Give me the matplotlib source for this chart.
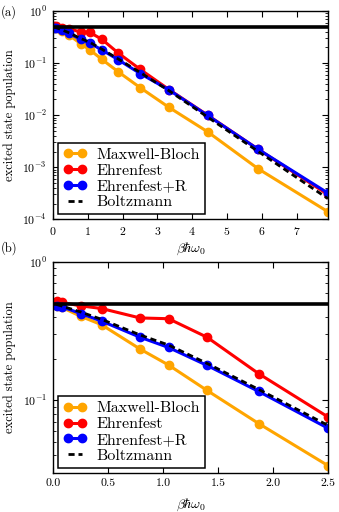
import matplotlib
matplotlib.use("Agg")
import matplotlib.pyplot as plt
from matplotlib.ticker import LogLocator, NullFormatter, FixedLocator

plt.rcParams.update({
    "font.family": "serif",
    "font.serif": ["cmr10", "DejaVu Serif"],
    "mathtext.fontset": "cm",
    "axes.formatter.use_mathtext": True,
    "font.size": 8.5,
    "xtick.direction": "in",
    "ytick.direction": "in",
    "xtick.top": True,
    "ytick.right": True,
    "xtick.major.size": 4,
    "ytick.major.size": 4,
    "xtick.minor.size": 2,
    "ytick.minor.size": 2,
    "xtick.major.pad": 4,
    "ytick.major.pad": 4.5,
    "axes.linewidth": 1.0,
})

x = [0.03, 0.08, 0.25, 0.44, 0.79, 1.05, 1.40, 1.87, 2.50, 3.33, 4.44, 5.90, 7.90]
maxwell_bloch = [0.48, 0.469, 0.405, 0.352, 0.235, 0.180, 0.118, 0.068, 0.0338, 0.0141, 0.0048, 9.3e-4, 1.4e-4]
ehrenfest = [0.524, 0.51, 0.482, 0.461, 0.394, 0.389, 0.286, 0.156, 0.076, 0.031, 0.0100, 2.2e-3, 3.0e-4]
ehrenfest_r = [0.48, 0.474, 0.424, 0.374, 0.286, 0.241, 0.179, 0.116, 0.0630, 0.0305, 0.0099, 2.2e-3, 3.2e-4]
boltzmann = [0.493, 0.48, 0.435, 0.385, 0.297, 0.251, 0.185, 0.120, 0.066, 0.0295, 0.0092, 2.0e-3, 2.5e-4]
half_line = 0.5

xticks_a = [0, 1, 2, 3, 4, 5, 6, 7]
xticks_b = [0.0, 0.5, 1.0, 1.5, 2.0, 2.5]

fig = plt.figure(figsize=(3.39, 5.12), dpi=100)
ax_a = fig.add_axes([0.157, 0.5717, 0.810, 0.4068])
ax_b = fig.add_axes([0.157, 0.0768, 0.810, 0.4115])

def draw(ax):
    ax.plot(x, maxwell_bloch, "-o", color="#FFA500", mec="#FFA500", lw=2.2, ms=6, label="Maxwell-Bloch")
    ax.plot(x, ehrenfest, "-o", color="#FF0000", mec="#FF0000", lw=2.2, ms=6, label="Ehrenfest")
    ax.plot(x, ehrenfest_r, "-o", color="#0000FF", mec="#0000FF", lw=2.2, ms=6, label="Ehrenfest+R")
    ax.plot(x, boltzmann, color="black", lw=2.0, ls=(0, (2.2, 1.4)), label="Boltzmann")
    ax.axhline(half_line, color="black", lw=2.6)
    ax.set_yscale("log")
    ax.set_ylabel("excited state population", fontsize=9)
    ax.set_xlabel(r"$\beta\hbar\omega_0$", fontsize=10)
    ax.yaxis.set_minor_locator(LogLocator(base=10, subs=range(2, 10)))
    ax.yaxis.set_minor_formatter(NullFormatter())
    leg = ax.legend(loc="lower left", numpoints=2, fancybox=False, edgecolor="black",
                    framealpha=1, fontsize=11.5, handlelength=1.5, handletextpad=0.6,
                    labelspacing=0.1, borderpad=0.3, borderaxespad=0.32)
    leg.get_frame().set_linewidth(1.1)

draw(ax_a)
ax_a.set_xlim(0, 7.9)
ax_a.set_ylim(1e-4, 1)
ax_a.xaxis.set_major_locator(FixedLocator(xticks_a))
ax_a.xaxis.set_label_coords(0.5, -0.104)
ax_a.yaxis.set_label_coords(-0.136, 0.5)

draw(ax_b)
ax_b.set_xlim(0, 2.5)
ax_b.set_ylim(0.03, 1)
ax_b.xaxis.set_major_locator(FixedLocator(xticks_b))
ax_b.set_xticklabels([f"{v:.1f}" for v in xticks_b])
ax_b.xaxis.set_label_coords(0.5, -0.112)
ax_b.yaxis.set_label_coords(-0.136, 0.5)

fig.text(0.003, 0.977, "(a)", ha="left", va="center", fontsize=9)
fig.text(0.003, 0.516, "(b)", ha="left", va="center", fontsize=9)

fig.savefig("out.png", dpi=100)
